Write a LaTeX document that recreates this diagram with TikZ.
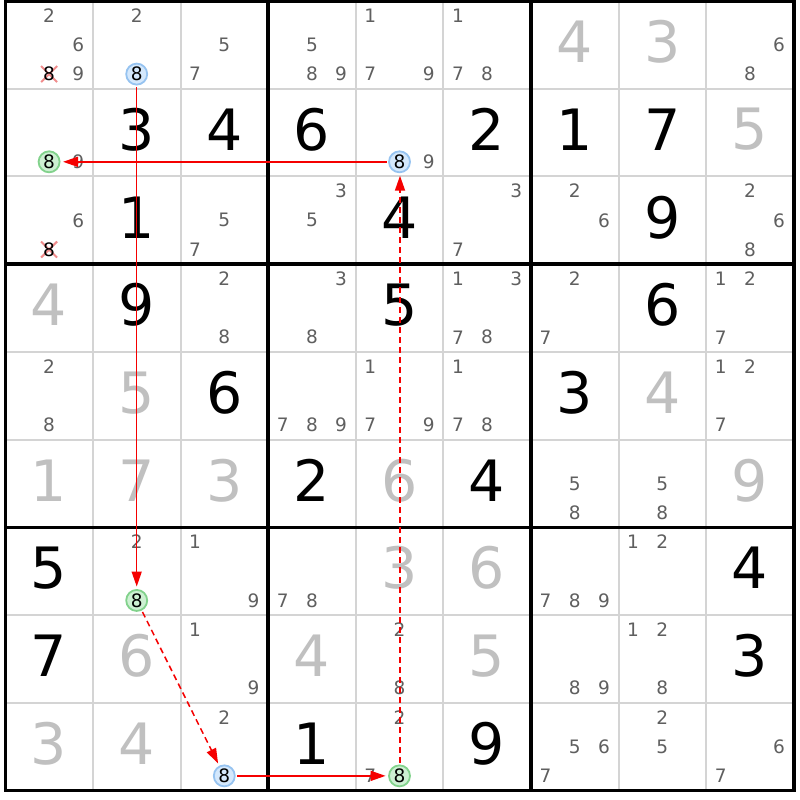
\documentclass[tikz,border=0pt]{standalone}
\usepackage{fontspec}
\setmainfont{DejaVu Sans}
\usetikzlibrary{arrows.meta}
\definecolor{candgray}{RGB}{95,95,95}
\definecolor{solvedgray}{RGB}{192,192,192}
\definecolor{gridgray}{RGB}{212,212,212}
\definecolor{bluering}{RGB}{150,195,240}
\definecolor{bluefill}{RGB}{212,232,252}
\definecolor{greenring}{RGB}{130,210,140}
\definecolor{greenfill}{RGB}{205,240,210}
\definecolor{xred}{RGB}{240,140,140}
\definecolor{linkred}{RGB}{245,0,0}
\begin{document}
\begin{tikzpicture}[x=1pt,y=-1pt,
  given/.style={font=\fontsize{57}{60}\selectfont, text=black, inner sep=0pt},
  solved/.style={given, text=solvedgray},
  cand/.style={font=\fontsize{18.5}{20}\selectfont, text=candgray, inner sep=0pt},
  hlbase/.style={circle, line width=1.8pt, minimum size=21pt, inner sep=0pt, font=\fontsize{18.5}{20}\selectfont, text=black},
  hlblue/.style={hlbase, draw=bluering, fill=bluefill},
  hlgreen/.style={hlbase, draw=greenring, fill=greenfill},
  elim/.style={cand, text=black},
  xmark/.style={draw=xred, line width=2pt},
  thinline/.style={draw=gridgray, line width=2pt},
  thickline/.style={draw=black, line width=3.6pt},
  strong/.style={draw=linkred, line width=1.5pt, -{Triangle[length=15pt,width=10pt]}, shorten >=2.5pt, shorten <=1.5pt},
  weak/.style={strong, dash pattern=on 6pt off 4pt},
]
\def\XO{5.3}\def\YO{1}\def\CX{87.6}\def\CY{87.72}
\useasboundingbox (0,0) rectangle (800,800);
\fill[white] (0,0) rectangle (800,800);
% thin grid lines
\foreach \i in {1,2,4,5,7,8} {
  \draw[thinline] ({\XO+\i*\CX},\YO) -- ({\XO+\i*\CX},{\YO+9*\CY});
  \draw[thinline] (\XO,{\YO+\i*\CY}) -- ({\XO+9*\CX},{\YO+\i*\CY});
}
% thick box lines
\foreach \i in {3,6} {
  \draw[thickline] ({\XO+\i*\CX},\YO) -- ({\XO+\i*\CX},{\YO+9*\CY});
  \draw[thickline] (\XO,{\YO+\i*\CY}) -- ({\XO+9*\CX},{\YO+\i*\CY});
}
\draw[thickline] (\XO,\YO) rectangle ({\XO+9*\CX},{\YO+9*\CY});
% given digits
\foreach \r/\c/\v in {2/2/3,2/3/4,2/4/6,2/6/2,2/7/1,2/8/7,3/2/1,3/5/4,3/8/9,
  4/2/9,4/5/5,4/8/6,5/3/6,5/7/3,6/4/2,6/6/4,7/1/5,7/9/4,8/1/7,8/9/3,9/4/1,9/6/9} {
  \node[given] (g\r\c) at ({\XO+(\c-0.5)*\CX},{\YO+(\r-0.5)*\CY-3}) {\v};
}
% solved digits
\foreach \r/\c/\v in {1/7/4,1/8/3,2/9/5,4/1/4,5/2/5,5/8/4,6/1/1,6/2/7,6/3/3,6/5/6,6/9/9,
  7/5/3,7/6/6,8/2/6,8/4/4,8/6/5,9/1/3,9/2/4} {
  \node[solved] (s\r\c) at ({\XO+(\c-0.5)*\CX},{\YO+(\r-0.5)*\CY-3}) {\v};
}
% candidates
\foreach \r/\c/\ds in {1/1/{2,6,9},1/2/{2},1/3/{5,7},1/4/{5,8,9},1/5/{1,7,9},1/6/{1,7,8},1/9/{6,8},
  2/1/{9},2/5/{9},
  3/1/{6},3/3/{5,7},3/4/{3,5},3/6/{3,7},3/7/{2,6},3/9/{2,6,8},
  4/3/{2,8},4/4/{3,8},4/6/{1,3,7,8},4/7/{2,7},4/9/{1,2,7},
  5/1/{2,8},5/4/{7,8,9},5/5/{1,7,9},5/6/{1,7,8},5/9/{1,2,7},
  6/7/{5,8},6/8/{5,8},
  7/2/{2},7/3/{1,9},7/4/{7,8},7/7/{7,8,9},7/8/{1,2},
  8/3/{1,9},8/5/{2,8},8/7/{8,9},8/8/{1,2,8},
  9/3/{2},9/5/{2,7},9/7/{5,6,7},9/8/{2,5},9/9/{6,7}} {
  \foreach \d in \ds {
    \pgfmathtruncatemacro\k{mod(\d-1,3)}
    \pgfmathtruncatemacro\m{(\d-1)/3}
    \node[cand] (c\r\c\d) at ({\XO+(\c-1)*\CX+(\k+0.5)*\CX/3},{\YO+(\r-1)*\CY+(\m+0.5)*\CY/3}) {\d};
  }
}
% eliminated candidates (crossed 8s)
\coordinate (x11) at ({\XO+1.5*\CX/3},{\YO+2.5*\CY/3});
\coordinate (x31) at ({\XO+1.5*\CX/3},{\YO+2*\CY+2.5*\CY/3});
\foreach \p in {x11,x31} {
  \draw[xmark] ([shift={(-8,-8)}]\p) -- ([shift={(8,8)}]\p);
  \draw[xmark] ([shift={(-8,8)}]\p) -- ([shift={(8,-8)}]\p);
}
\node[elim] (e11) at (x11) {8};
\node[elim] (e31) at (x31) {8};
% highlighted candidates
\node[hlblue]  (h12) at ({\XO+1*\CX+1.5*\CX/3},{\YO+0*\CY+2.5*\CY/3}) {8};
\node[hlgreen] (h72) at ({\XO+1*\CX+1.5*\CX/3},{\YO+6*\CY+2.5*\CY/3}) {8};
\node[hlblue]  (h93) at ({\XO+2*\CX+1.5*\CX/3},{\YO+8*\CY+2.5*\CY/3}) {8};
\node[hlgreen] (h95) at ({\XO+4*\CX+1.5*\CX/3},{\YO+8*\CY+2.5*\CY/3}) {8};
\node[hlblue]  (h25) at ({\XO+4*\CX+1.5*\CX/3},{\YO+1*\CY+2.5*\CY/3}) {8};
\node[hlgreen] (h21) at ({\XO+0*\CX+1.5*\CX/3},{\YO+1*\CY+2.5*\CY/3}) {8};
% chain links
\draw[strong] (h12) -- (h72);
\draw[weak]   (h72) -- (h93);
\draw[strong] (h93) -- (h95);
\draw[weak, line width=1.7pt, transform canvas={xshift=0.5pt}] (h95) -- (h25);
\draw[strong] (h25) -- (h21);
\end{tikzpicture}
\end{document}
